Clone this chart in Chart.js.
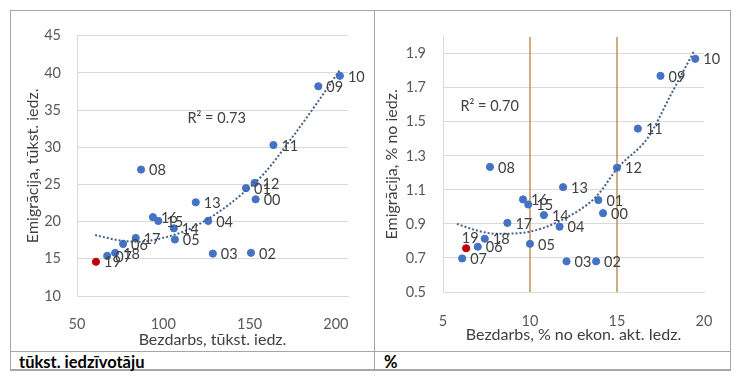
<!DOCTYPE html>
<html>
<head>
<meta charset="utf-8">
<script src="https://cdn.jsdelivr.net/npm/chart.js@4/dist/chart.umd.min.js"></script>
<style>
  body { margin: 0; background: #fff; width: 744px; height: 385px; position: relative; overflow: hidden; }
  .frame { position: absolute; left: 10px; top: 10px; width: 719px; height: 358px; border: 1px solid #a6a6a6; border-bottom: 2px solid #a6a6a6; }
  .vline { position: absolute; left: 374px; top: 11px; width: 1px; height: 358px; background: #a6a6a6; }
  .hline { position: absolute; left: 11px; top: 351px; width: 719px; height: 1px; background: #a6a6a6; }
  .cell { position: absolute; top: 11px; height: 340px; }
  .foot { position: absolute; top: 353px; font: bold 16.5px Lato, sans-serif; color: #000; line-height: 19px; }
</style>
</head>
<body>
<div class="frame"></div>
<div class="vline"></div>
<div class="hline"></div>
<div class="cell" style="left:11px; width:363px;"><canvas id="leftChart" width="363" height="340"></canvas></div>
<div class="cell" style="left:376px; width:353px;"><canvas id="rightChart" width="353" height="340"></canvas></div>
<div class="foot" style="left:19px;">tūkst. iedzīvotāju</div>
<div class="foot" style="left:384px;">%</div>
<script>
const years = ['00','01','02','03','04','05','06','07','08','09','10','11','12','13','14','15','16','17','18'];
const lastYear = '19';

// thousands of people
const unempThs = [153.5, 147.9, 150.8, 128.7, 126.0, 106.7, 76.7, 67.5, 87.1, 189.8, 202.3, 163.8, 152.9, 118.8, 106.1, 97.1, 94.0, 84.0, 72.1];
const emigThs = [23.0, 24.5, 15.8, 15.7, 20.1, 17.6, 17.0, 15.4, 27.0, 38.2, 39.6, 30.3, 25.2, 22.6, 19.1, 20.1, 20.6, 17.8, 15.8];
const lastUnempThs = 61.0;
const lastEmigThs = 14.6;

// percent
const unempPct = [14.2, 13.93, 13.8, 12.1, 11.7, 10.0, 7.0, 6.1, 7.7, 17.5, 19.5, 16.2, 15.0, 11.9, 10.8, 9.9, 9.6, 8.7, 7.4];
const emigPct = [0.963, 1.04, 0.68, 0.68, 0.884, 0.783, 0.766, 0.697, 1.235, 1.77, 1.87, 1.46, 1.23, 1.116, 0.952, 1.014, 1.044, 0.906, 0.813];
const lastUnempPct = 6.33;
const lastEmigPct = 0.757;

// trendlines
const trendThsX = [60.5, 74, 85, 103, 116, 131.5, 145, 158.5, 173, 188, 202];
const trendThsY = [18.2, 17.5, 17.3, 18.0, 19.1, 21.2, 23.6, 26.5, 30.8, 35.6, 40.3];
const trendPctX = [5.8, 7.0, 8.1, 10.0, 11.9, 13.8, 15.05, 16.8, 18.1, 19.4];
const trendPctY = [0.90, 0.86, 0.842, 0.855, 0.927, 1.06, 1.23, 1.41, 1.66, 1.91];

const markerLinesPct = [10, 15];

const xTicksThs = [50, 100, 150, 200];
const yTicksThs = [10, 15, 20, 25, 30, 35, 40, 45];
const xTicksPct = [5, 10, 15, 20];
const yTicksPct = [0.5, 0.7, 0.9, 1.1, 1.3, 1.5, 1.7, 1.9];

const blue = '#4472C4';
const red = '#C00000';
const trendColor = '#44608C';
const gridColor = '#D9D9D9';

Chart.defaults.font.family = 'Lato, sans-serif';
Chart.defaults.font.size = 14.5;
Chart.defaults.color = '#595959';

const toPoints = (xs, ys) => xs.map((x, i) => ({x: x, y: ys[i]}));

// year labels next to each point + R² note
const pointLabels = {
    id: 'pointLabels',
    afterDatasetsDraw(chart, args, opts) {
        const ctx = chart.ctx;
        ctx.save();
        ctx.font = '14.5px Lato, sans-serif';
        ctx.fillStyle = '#404040';
        ctx.textBaseline = 'middle';
        chart.data.datasets.forEach((ds, i) => {
            if (!ds.pointNames) return;
            chart.getDatasetMeta(i).data.forEach((pt, j) => {
                const name = ds.pointNames[j];
                if ((opts.above || []).includes(name)) {
                    ctx.textAlign = 'center';
                    ctx.fillText(name, pt.x + 4, pt.y - 10);
                } else {
                    ctx.textAlign = 'left';
                    ctx.fillText(name, pt.x + 8, pt.y + 1);
                }
            });
        });
        const xs = chart.scales.x, ys = chart.scales.y;
        ctx.textAlign = 'left';
        ctx.fillText(opts.note, xs.getPixelForValue(opts.noteAt[0]), ys.getPixelForValue(opts.noteAt[1]));
        ctx.restore();
    }
};

function makeScatter(canvasId, c) {
    const datasets = [{
        type: 'line',
        data: toPoints(c.trendX, c.trendY),
        borderColor: trendColor,
        borderWidth: 2,
        borderDash: [2, 2],
        pointRadius: 0,
        fill: false,
        cubicInterpolationMode: 'monotone',
        order: 0
    }, {
        data: toPoints(c.xs, c.ys),
        pointNames: years,
        backgroundColor: blue,
        borderColor: blue,
        pointRadius: 3.6,
        order: 1
    }, {
        data: [{x: c.lastX, y: c.lastY}],
        pointNames: [lastYear],
        backgroundColor: red,
        borderColor: red,
        pointRadius: 3.6,
        order: 1
    }];
    (c.markers || []).forEach(m => datasets.push({
        type: 'line',
        data: [{x: m, y: c.yMin}, {x: m, y: c.yMax}],
        borderColor: '#B4823F',
        borderWidth: 1.3,
        pointRadius: 0,
        order: 2
    }));

    return new Chart(document.getElementById(canvasId).getContext('2d'), {
        type: 'scatter',
        data: {datasets: datasets},
        plugins: [pointLabels],
        options: {
            responsive: false,
            animation: false,
            layout: {padding: {left: 0, right: c.padRight, top: 16, bottom: 0}},
            plugins: {
                legend: {display: false},
                tooltip: {enabled: false},
                pointLabels: {note: c.note, noteAt: c.noteAt, above: c.above}
            },
            scales: {
                x: {
                    type: 'linear',
                    min: c.xMin,
                    max: c.xMax,
                    grid: {display: false},
                    border: {display: true, color: gridColor},
                    afterBuildTicks: s => { s.ticks = c.xTicks.map(v => ({value: v})); },
                    afterFit: s => { s.height = c.xAxisHeight; },
                    ticks: {padding: c.xTickPad, maxRotation: 0},
                    title: {display: true, text: c.xTitle, color: '#404040', font: {size: 16}, padding: {top: 0, bottom: c.xTitlePad}}
                },
                y: {
                    min: c.yMin,
                    max: c.yMax,
                    grid: {color: gridColor, drawTicks: false},
                    border: {display: true, color: gridColor},
                    afterBuildTicks: s => { s.ticks = c.yTicks.map(v => ({value: v})); },
                    afterFit: s => { s.width = c.yAxisWidth; },
                    ticks: {padding: c.yTickPad, callback: c.yFormat},
                    title: {display: true, text: c.yTitle, color: '#404040', font: {size: 16}, padding: {top: c.yTitlePad, bottom: 0}}
                }
            }
        }
    });
}

makeScatter('leftChart', {
    xs: unempThs, ys: emigThs, lastX: lastUnempThs, lastY: lastEmigThs,
    trendX: trendThsX, trendY: trendThsY,
    xMin: 50, xMax: 207, yMin: 10, yMax: 45,
    xTicks: xTicksThs, yTicks: yTicksThs,
    yFormat: v => v,
    xTitle: 'Bezdarbs, tūkst. iedz.', yTitle: 'Emigrācija, tūkst. iedz.',
    note: 'R² = 0.73', noteAt: [114, 33.9],
    padRight: 26, xAxisHeight: 55, yAxisWidth: 66,
    xTickPad: 12, yTickPad: 16, xTitlePad: 1.5, yTitlePad: 12.5
});

makeScatter('rightChart', {
    xs: unempPct, ys: emigPct, lastX: lastUnempPct, lastY: lastEmigPct,
    trendX: trendPctX, trendY: trendPctY,
    markers: markerLinesPct,
    xMin: 5, xMax: 20, yMin: 0.5, yMax: 2.0,
    xTicks: xTicksPct, yTicks: yTicksPct,
    yFormat: v => v.toFixed(1),
    xTitle: 'Bezdarbs, % no ekon. akt. Iedz.', yTitle: 'Emigrācija, % no iedz.',
    note: 'R² = 0.70', noteAt: [6.0, 1.59], above: ['19'],
    padRight: 25, xAxisHeight: 59, yAxisWidth: 67,
    xTickPad: 13, yTickPad: 17, xTitlePad: 6.5, yTitlePad: 6.5
});
</script>
</body>
</html>
